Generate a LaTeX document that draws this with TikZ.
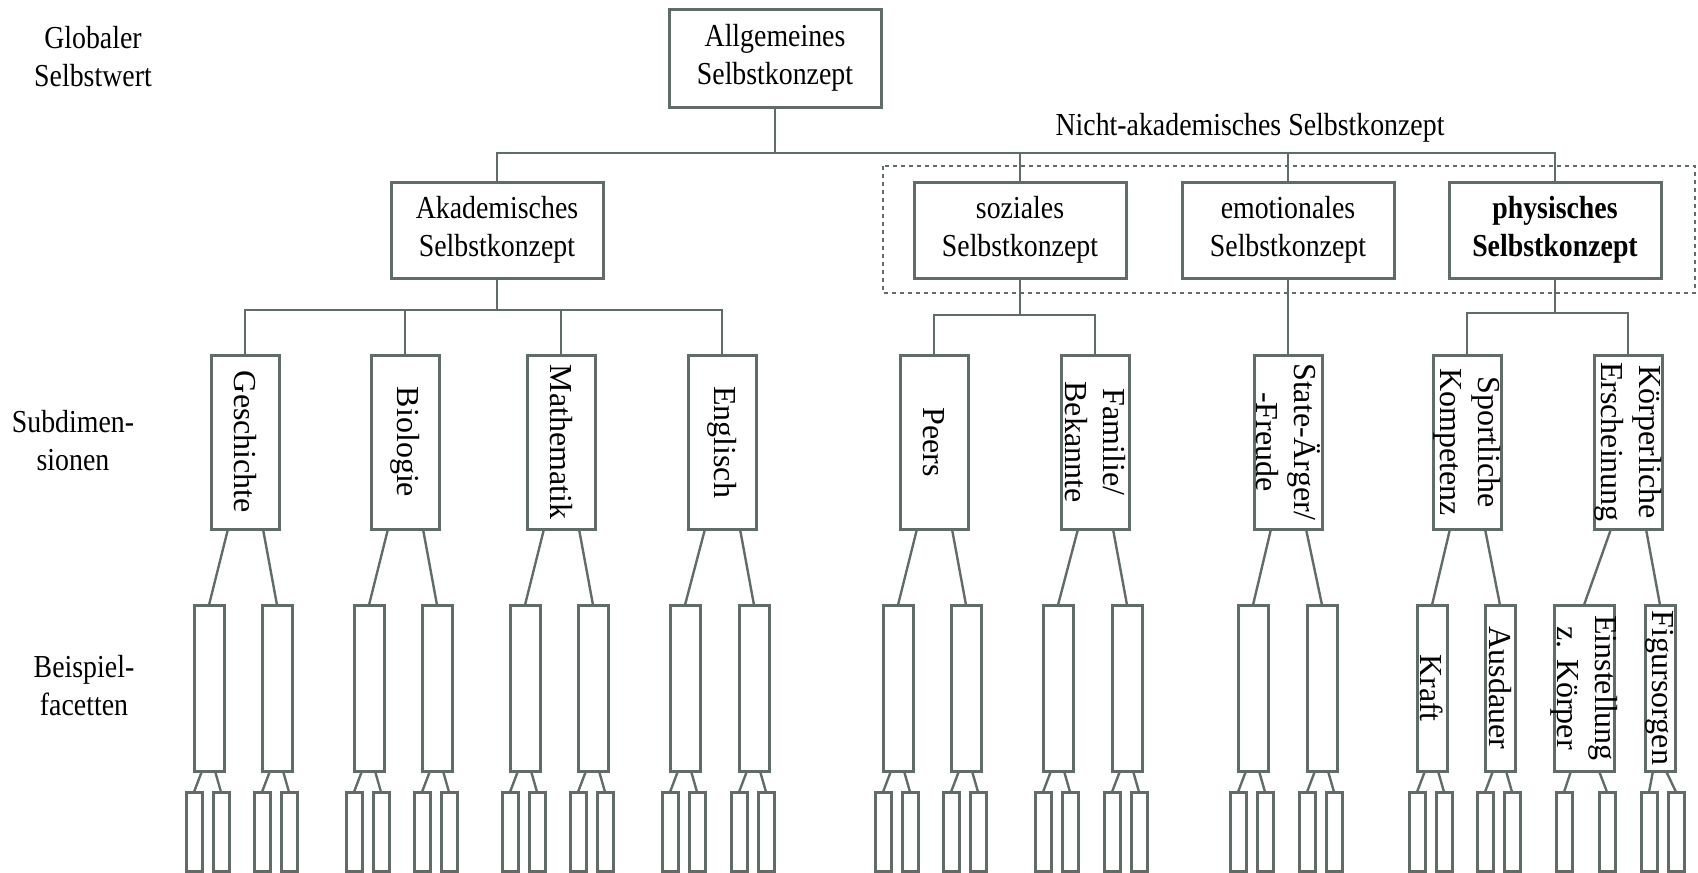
\documentclass[tikz,border=0pt]{standalone}
\usepackage{fontspec}
\setmainfont{Liberation Serif}
\newfontfamily\hfont{Liberation Serif}[FakeStretch=0.87]
\usetikzlibrary{calc}
\definecolor{lc}{RGB}{98,108,103}
\tikzset{
  every node/.style={inner sep=0pt, outer sep=0pt},
  box/.style={draw=lc, line width=1.5pt, minimum width=106pt, minimum height=48pt, align=center, font=\hfont\fontsize{16}{19}\selectfont},
  subbox/.style={draw=lc, line width=1.5pt, minimum width=34pt, minimum height=87pt},
  facbox/.style={draw=lc, line width=1.5pt, minimum width=15pt, minimum height=83pt},
  smallbox/.style={draw=lc, line width=1.5pt, minimum width=8pt, minimum height=39.5pt},
  vtext/.style={rotate=-90, align=center, font=\fontsize{16}{19}\selectfont},
  htext/.style={align=center, font=\hfont\fontsize{16}{19}\selectfont},
  conn/.style={draw=lc, line width=1.2pt},
  dotbox/.style={draw=lc, line width=1.3pt, dash pattern=on 2pt off 2pt},
}
\begin{document}
\begin{tikzpicture}[x=0.5pt, y=-0.5pt]
\useasboundingbox (0,0) rectangle (1698,873);

% left labels
\node[htext] (lglob) at (93,57) {Globaler\\Selbstwert};
\node[htext] (lsub) at (73,441) {Subdimen-\\sionen};
\node[htext] (lbei) at (84,686) {Beispiel-\\facetten};

% top levels
\node[box, minimum height=49pt] (allg) at (775,58) {Allgemeines\\Selbstkonzept};
\node[box] (akad) at (497,230) {Akademisches\\Selbstkonzept};
\node[box] (soz) at (1020,230) {soziales\\Selbstkonzept};
\node[box] (emo) at (1288,230) {emotionales\\Selbstkonzept};
\node[box, font=\hfont\bfseries\fontsize{16}{19}\selectfont] (phys) at (1555,230) {physisches\\Selbstkonzept};

\node[htext, anchor=base] (nichtakad) at (1250,135) {Nicht-akademisches Selbstkonzept};
\draw[dotbox] (883,166) rectangle (1695,293);

\coordinate (b0) at (775,153);
\draw[conn] (allg.south) -- (b0);
\draw[conn] (akad.north) |- (b0) -| (phys.north);
\draw[conn] (soz.north) -- (soz.north |- b0);
\draw[conn] (emo.north) -- (emo.north |- b0);

% subdimensions
\node[subbox] (ge) at (245,442) {};
\node[subbox] (bi) at (405,442) {};
\node[subbox] (ma) at (561,442) {};
\node[subbox] (en) at (722,442) {};
\node[subbox] (pe) at (934,442) {};
\node[subbox] (fa) at (1095,442) {};
\node[subbox] (st) at (1288,442) {};
\node[subbox] (sp) at (1467,442) {};
\node[subbox] (ko) at (1628,442) {};
\node[vtext] (ge-t) at (ge) {Geschichte};
\node[vtext] (bi-t) at (bi) {Biologie};
\node[vtext] (ma-t) at (ma) {Mathematik};
\node[vtext] (en-t) at (en) {Englisch};
\node[vtext] (pe-t) at (pe) {Peers};
\node[vtext] (fa-t) at (fa) {Familie/\\Bekannte};
\node[vtext] (st-t) at (st) {State-Ärger/\\-Freude};
\node[vtext] (sp-t) at (sp) {Sportliche\\Kompetenz};
\node[vtext] (ko-t) at (ko) {Körperliche\\Erscheinung};

\coordinate (b1) at (497,310);
\draw[conn] (akad.south) -- (b1);
\draw[conn] (ge.north) |- (b1) -| (en.north);
\draw[conn] (bi.north) -- (bi.north |- b1);
\draw[conn] (ma.north) -- (ma.north |- b1);

\coordinate (b2) at (1020,315);
\draw[conn] (soz.south) -- (b2);
\draw[conn] (pe.north) |- (b2) -| (fa.north);

\draw[conn] (emo.south) -- (st.north);

\coordinate (b3) at (1555,313);
\draw[conn] (phys.south) -- (b3);
\draw[conn] (sp.north) |- (b3) -| (ko.north);

% facets (regular)
\foreach \p/\a/\b in {ge/209/277, bi/369/437, ma/525/593, en/685/754, pe/898/966, fa/1058/1127, st/1253/1322, sp/1432/1500}{
  \node[facbox] (\p-1) at (\a,688) {};
  \node[facbox] (\p-2) at (\b,688) {};
  \draw[conn] ($(\p.south)+(-17,0)$) -- (\p-1.north);
  \draw[conn] ($(\p.south)+(18,0)$) -- (\p-2.north);
  \foreach \f in {1,2}{
    \node[smallbox] (\p-\f-a) at ($(\p-\f)+(-15,143.5)$) {};
    \node[smallbox] (\p-\f-b) at ($(\p-\f)+(12,143.5)$) {};
    \draw[conn] ($(\p-\f.south)+(-7,0)$) -- (\p-\f-a.north);
    \draw[conn] ($(\p-\f.south)+(6,0)$) -- (\p-\f-b.north);
  }
}
% facets of Koerperliche Erscheinung
\node[facbox, minimum width=30pt] (ko-1) at (1584,688) {};
\node[facbox] (ko-2) at (1660,688) {};
\draw[conn] ($(ko.south)+(-17,0)$) -- (ko-1.north);
\draw[conn] ($(ko.south)+(18,0)$) -- (ko-2.north);
\node[smallbox] (ko-1-a) at ($(ko-1)+(-20,143.5)$) {};
\node[smallbox] (ko-1-b) at ($(ko-1)+(23,143.5)$) {};
\draw[conn] ($(ko-1.south)+(-13,0)$) -- (ko-1-a.north);
\draw[conn] ($(ko-1.south)+(15,0)$) -- (ko-1-b.north);
\node[smallbox] (ko-2-a) at ($(ko-2)+(-11,143.5)$) {};
\node[smallbox] (ko-2-b) at ($(ko-2)+(16,143.5)$) {};
\draw[conn] ($(ko-2.south)+(-7,0)$) -- (ko-2-a.north);
\draw[conn] ($(ko-2.south)+(6,0)$) -- (ko-2-b.north);

% facet texts
\node[vtext] (sp-1-t) at (sp-1) {Kraft};
\node[vtext] (sp-2-t) at (sp-2) {Ausdauer};
\node[vtext] (ko-1-t) at (ko-1) {Einstellung\\z. Körper};
\node[vtext] (ko-2-t) at (ko-2) {Figursorgen};
\end{tikzpicture}
\end{document}
